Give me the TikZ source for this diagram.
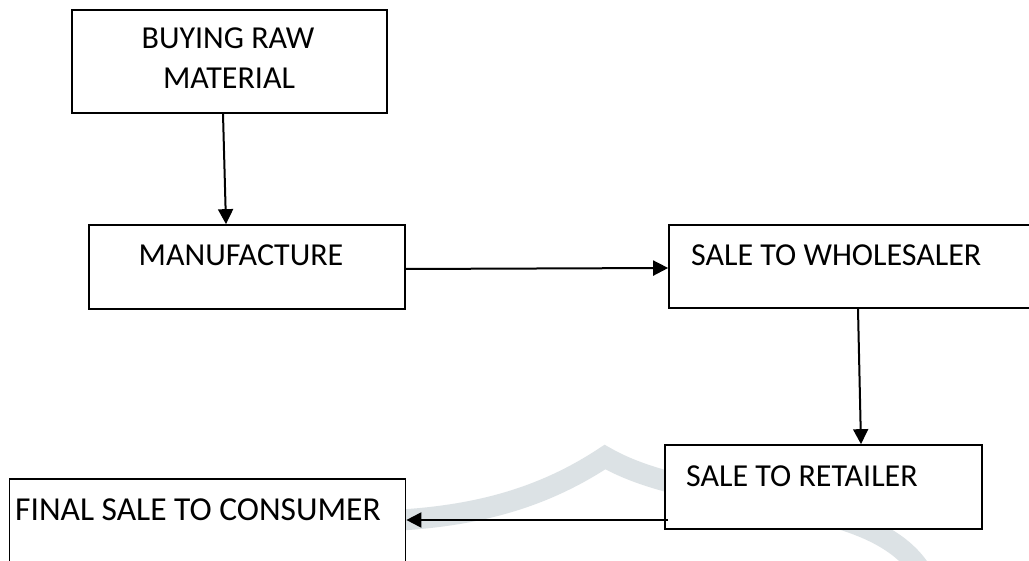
\documentclass[tikz,border=0pt]{standalone}
\usepackage{fontspec}
\setmainfont{Carlito}
\usetikzlibrary{arrows.meta,calc}
\definecolor{wmark}{RGB}{220,226,229}
\tikzset{
  box/.style={draw=black, line width=1.7pt, fill=white, rectangle, inner sep=0pt},
  lbl/.style={inner sep=0pt, font=\fontsize{32}{40}\selectfont},
  arr/.style={line width=2pt, -{Triangle[length=15pt,width=15pt]}},
}
\begin{document}
\begin{tikzpicture}[x=1pt,y=-1pt]
\useasboundingbox (0,0) rectangle (1029,561);
\clip (0,0) rectangle (1029,561);
\fill[white] (0,0) rectangle (1029,561);
% watermark
\draw[wmark, line width=21pt, line join=miter, miter limit=10]
  (380,521) .. controls (470,518) and (540,500) .. (605,457)
  .. controls (700,512) and (880,490) .. (925,578);
% boxes
\node[box, minimum width=315pt, minimum height=103pt] (b1) at (229.5,61.5) {};
\node[box, minimum width=316pt, minimum height=84pt] (b2) at (247,267) {};
\node[box, minimum width=376pt, minimum height=83pt] (b3) at (857,266.5) {};
\node[box, minimum width=317pt, minimum height=84pt] (b4) at (823.5,487) {};
\node[box, minimum width=396pt, minimum height=121pt] (b5) at (207.5,539.5) {};
% texts
\node[lbl, anchor=base] (t1a) at (228,49) {BUYING RAW};
\node[lbl, anchor=base] (t1b) at (229,89) {MATERIAL};
\node[lbl, anchor=base] (t2) at (241,265.5) {MANUFACTURE};
\node[lbl, anchor=base west] (t3) at (691,266) {SALE TO WHOLESALER};
\node[lbl, anchor=base west] (t4) at (686,486) {SALE TO RETAILER};
\node[lbl, anchor=base west, font=\fontsize{33.5}{40}\selectfont] (t5) at (15,520.5) {FINAL SALE TO CONSUMER};
% connectors
\draw[arr] ([xshift=-6.5pt]b1.south) -- ([xshift=-21pt]b2.north);
\draw[arr] ([yshift=-2pt]b2.east) -- ([yshift=-1.5pt]b3.west);
\draw[arr] ([xshift=1pt]b3.south) -- ([xshift=37.5pt]b4.north);
\draw[arr] ([xshift=4pt,yshift=-33pt]b4.west) coordinate (s4) -- (s4 -| b5.east);
\end{tikzpicture}
\end{document}
